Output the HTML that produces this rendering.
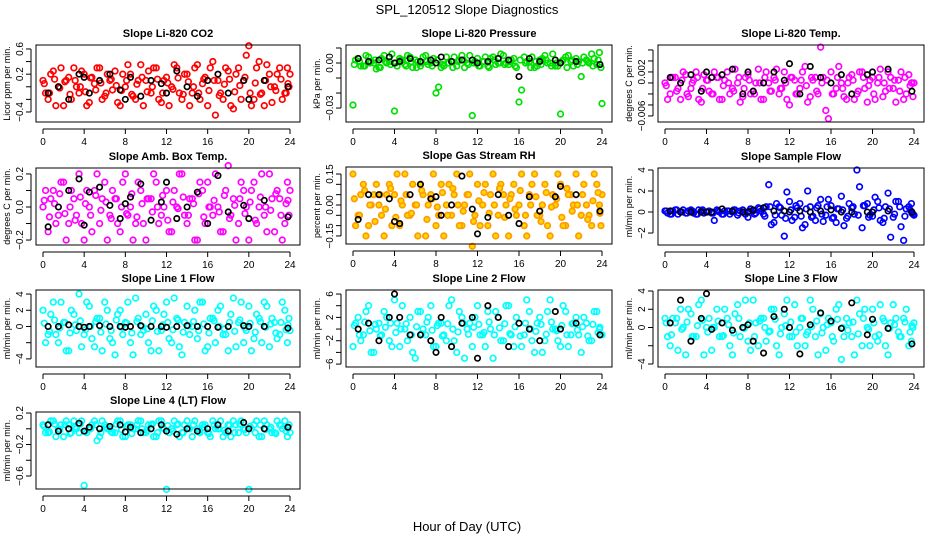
<!DOCTYPE html>
<html><head><meta charset="utf-8">
<style>
html,body{margin:0;padding:0;background:#fff}
svg{display:block;font-family:"Liberation Sans",Arial,sans-serif}
</style></head>
<body>
<svg id="chart" width="936" height="540" viewBox="0 0 936 540" xmlns="http://www.w3.org/2000/svg">
<text x="467" y="14" font-size="13" text-anchor="middle">SPL_120512  Slope Diagnostics</text>
<text x="467" y="531" font-size="13" text-anchor="middle">Hour of Day (UTC)</text>
</svg>
<script>
const hoursA=[0,0.5,1,1.5,2,2.5,3,3.5,4,4.5,5,5.5,6,6.5,7,7.5,8,8.5,9,9.5,10,10.5,11,11.5,12,12.5,13,13.5,14,14.5,15,15.5,16,16.5,17,17.5,18,18.5,19,19.5,20,20.5,21,21.5,22,22.5,23,23.5,24];
const hoursB=[0.25,0.75,1.25,1.75,2.25,2.75,3.25,3.75,4.25,4.75,5.25,5.75,6.25,6.75,7.25,7.75,8.25,8.75,9.25,9.75,10.25,10.75,11.25,11.75,12.25,12.75,13.25,13.75,14.25,14.75,15.25,15.75,16.25,16.75,17.25,17.75,18.25,18.75,19.25,19.75,20.25,20.75,21.25,21.75,22.25,22.75,23.25,23.75,23.9];
const hoursC=[0.125,0.625,1.125,1.625,2.125,2.625,3.125,3.625,4.125,4.625,5.125,5.625,6.125,6.625,7.125,7.625,8.125,8.625,9.125,9.625,10.125,10.625,11.125,11.625,12.125,12.625,13.125,13.625,14.125,14.625,15.125,15.625,16.125,16.625,17.125,17.625,18.125,18.625,19.125,19.625,20.125,20.625,21.125,21.625,22.125,22.625,23.125,23.625,23.8];
const blackHours=[0.5,1.5,2.5,3.5,4,4.5,5.5,6.5,7.5,8,8.5,9.5,10.5,11.5,12,13,14,15,16,17,18,19.5,20,21.5,23.8];
const xTicks=[0,4,8,12,16,20,24];

const co2A=[0.1,-0.2,0.25,0.0,-0.3,0.15,0.3,-0.1,0.2,-0.25,0.05,0.3,-0.15,0.1,0.25,-0.3,0.0,0.2,-0.2,0.35,0.1,-0.1,0.3,-0.25,0.15,0.0,0.3,-0.2,0.2,-0.1,0.35,0.05,-0.3,0.4,0.1,-0.2,0.25,-0.35,0.3,0.1,0.65,-0.2,0.4,-0.3,0.2,0.0,0.3,-0.1,0.2];
const co2B=[-0.1,0.2,-0.3,0.3,0.1,-0.2,0.0,0.25,-0.3,0.15,0.3,-0.2,0.2,-0.05,-0.25,0.2,0.35,-0.15,0.1,-0.3,0.25,0.3,-0.2,0.1,-0.3,0.35,-0.1,0.2,-0.3,0.3,-0.2,0.15,0.3,-0.45,-0.1,0.3,-0.3,0.2,-0.2,0.5,-0.3,0.3,-0.1,0.35,-0.25,0.2,-0.2,0.3,0.0];
const co2C=[0.05,-0.1,0.12,-0.02,0.08,-0.12,0.1,0.0,-0.08,0.14,-0.05,0.06,-0.1,0.12,0.02,-0.06,0.1,-0.12,0.04,0.15,-0.08,0.0,0.12,-0.1,0.06,-0.04,0.14,-0.12,0.08,0.0,-0.1,0.12,-0.06,0.1,-0.14,0.04,0.12,-0.08,0.02,0.15,-0.1,0.06,-0.12,0.1,0.0,-0.06,0.12,-0.1,0.05];
const co2K=[-0.1,0.0,-0.2,0.2,0.15,-0.1,0.1,0.2,-0.05,-0.2,0.15,-0.15,0.1,0.05,-0.1,0.25,0.0,-0.15,0.1,0.2,-0.1,0.1,-0.2,0.1,0.0];

const presA=[-0.028,0.003,-0.002,0.004,0.0,-0.003,0.005,0.001,-0.032,0.003,-0.001,0.004,0.002,-0.002,0.005,0.0,-0.02,-0.003,0.004,0.001,-0.002,0.005,0.0,-0.035,0.003,0.001,-0.002,0.004,0.0,0.005,-0.001,0.003,-0.026,0.004,0.001,-0.003,0.002,0.005,0.0,-0.002,-0.034,0.004,0.001,0.003,-0.009,0.002,0.006,-0.001,-0.027];
const presB=[0.002,-0.002,0.005,0.001,-0.004,0.003,0.0,0.006,-0.002,0.002,0.005,-0.003,0.001,0.004,-0.001,0.003,-0.016,-0.002,0.0,0.004,0.002,-0.003,0.005,0.001,-0.002,0.004,0.003,-0.001,0.006,0.0,0.002,-0.003,-0.018,0.001,0.004,-0.002,0.003,0.0,0.006,-0.002,0.002,0.005,-0.002,0.001,0.004,0.0,0.003,0.007,-0.003];
const presC=[-0.001,0.001,-0.002,0.0,0.002,-0.003,0.001,-0.001,0.0,0.002,-0.002,0.001,-0.003,0.0,0.001,-0.002,0.002,-0.001,0.0,-0.003,0.001,0.002,-0.001,0.0,-0.002,0.001,-0.003,0.002,0.0,-0.001,0.001,-0.002,0.002,0.0,-0.003,0.001,-0.001,0.002,-0.002,0.0,0.001,-0.003,0.002,-0.001,0.0,0.001,-0.002,0.002,-0.001];
const presK=[0.003,0.001,0.002,0.004,0.0,0.001,0.003,0.001,0.002,0.0,0.004,0.001,0.002,0.002,0.0,0.001,0.003,0.002,-0.009,0.003,0.001,0.002,0.0,0.001,-0.001];

const tempA=[0.0,-0.002,0.001,-0.003,0.0015,-0.001,0.002,-0.0035,0.0005,-0.002,0.001,-0.003,0.002,-0.001,0.0,-0.0025,0.0015,-0.0015,0.0025,-0.003,0.0,0.001,-0.002,0.002,-0.004,0.0005,-0.001,0.003,-0.0025,0.001,0.0065,-0.005,0.002,-0.001,0.0,-0.003,0.0015,-0.002,0.002,-0.0035,0.001,0.0,-0.0025,0.002,-0.001,0.0005,-0.003,0.0015,0.0];
const tempB=[-0.003,0.001,-0.001,0.002,-0.0025,0.0005,-0.003,0.0015,-0.0015,0.002,-0.003,0.0005,-0.002,0.0025,-0.0035,0.001,-0.002,0.0,-0.003,0.002,-0.0015,0.0025,-0.001,-0.003,0.001,-0.002,0.002,-0.0035,0.0005,-0.002,0.001,-0.0065,-0.002,0.003,-0.0025,0.001,-0.003,0.002,-0.001,0.0005,-0.003,0.0025,-0.0015,0.001,-0.0035,0.002,-0.002,0.0,-0.0025];
const tempC=[-0.0005,0.001,-0.0015,0.0005,-0.002,0.0,0.001,-0.001,0.0005,-0.002,0.001,-0.0005,0.0,-0.0015,0.001,-0.001,0.0005,-0.002,0.0,0.001,-0.0015,0.0005,-0.001,0.0,0.001,-0.002,0.0005,-0.0005,0.001,-0.0015,0.0,0.0005,-0.002,0.001,-0.001,0.0,0.0005,-0.0015,0.001,-0.0005,-0.002,0.001,0.0,-0.001,0.0005,-0.0015,0.001,-0.0005,0.0];
const tempK=[0.001,0.0,0.0015,-0.0015,0.002,0.001,0.0015,0.0025,-0.002,0.002,-0.0015,0.0,0.002,0.0005,0.0035,-0.002,0.003,0.001,0.0,0.0015,-0.002,0.0015,0.002,0.0025,-0.0015];

const ambA=[0.0,-0.15,0.1,-0.05,0.15,-0.1,0.05,0.2,-0.2,0.0,0.1,-0.1,0.15,-0.05,0.05,-0.15,0.2,0.0,-0.1,0.1,-0.2,0.05,0.15,-0.05,0.1,-0.15,0.0,0.2,-0.1,0.05,-0.2,0.1,0.15,-0.05,0.0,-0.15,0.25,0.05,-0.1,0.1,-0.2,0.15,0.0,-0.05,0.2,-0.15,0.05,-0.1,0.1];
const ambB=[0.1,0.05,-0.1,0.15,-0.2,0.1,-0.05,-0.1,0.1,-0.15,0.2,0.05,-0.2,0.1,-0.1,0.15,-0.05,-0.2,0.15,-0.1,0.05,0.2,-0.1,0.0,-0.15,0.1,0.2,-0.05,0.05,-0.2,0.15,-0.1,0.0,0.2,-0.15,0.1,-0.05,-0.2,0.15,0.0,0.1,-0.1,0.2,-0.15,0.05,0.1,-0.2,0.15,-0.05];
const ambC=[0.04,-0.06,0.02,0.08,-0.04,0.0,-0.08,0.06,0.02,-0.05,0.07,-0.02,0.03,-0.07,0.05,0.0,-0.04,0.08,-0.06,0.02,0.05,-0.03,0.0,0.07,-0.08,0.03,-0.01,0.06,-0.05,0.02,0.08,-0.06,0.0,0.04,-0.03,0.07,-0.07,0.01,0.05,-0.04,0.03,-0.08,0.06,0.0,-0.02,0.08,-0.05,0.02,0.04];
const ambK=[-0.12,0.0,0.1,0.17,-0.11,0.09,0.12,0.01,-0.07,0.02,0.06,0.14,-0.08,0.03,0.15,-0.07,0.0,0.09,-0.1,0.19,-0.03,0.01,-0.07,0.04,-0.06];

const rhA=[0.15,-0.05,0.1,-0.1,0.05,0.0,-0.15,0.1,0.05,-0.1,0.15,-0.05,0.0,0.1,-0.15,0.05,-0.1,0.1,0.0,-0.05,0.15,-0.1,0.05,-0.2,0.1,0.0,-0.1,0.15,-0.05,0.05,-0.15,0.1,0.0,-0.1,0.05,0.15,-0.05,0.1,-0.15,0.0,0.1,-0.1,0.05,0.15,-0.05,0.0,-0.1,0.1,0.05];
const rhB=[-0.1,0.05,-0.15,0.0,0.1,-0.05,0.05,-0.1,0.15,0.0,-0.05,0.1,-0.15,0.05,0.0,0.15,-0.05,-0.15,0.1,0.05,-0.1,0.0,0.15,-0.05,-0.1,0.1,0.05,-0.15,0.1,0.0,0.05,-0.05,0.15,-0.15,0.1,-0.05,0.0,-0.1,0.05,0.15,-0.1,0.05,0.0,-0.15,0.1,-0.05,0.15,0.0,-0.1];
const rhC=[0.03,-0.05,0.07,0.0,-0.08,0.05,-0.02,0.08,-0.06,0.02,0.05,-0.04,0.0,0.07,-0.07,0.03,-0.01,0.06,-0.05,0.08,0.0,-0.03,0.05,-0.08,0.02,0.06,-0.04,0.0,0.08,-0.06,0.03,-0.02,0.07,-0.05,0.0,0.04,-0.08,0.06,-0.01,0.03,-0.06,0.08,-0.03,0.0,0.05,-0.07,0.02,0.06,-0.04];
const rhK=[-0.07,0.05,0.05,0.03,-0.08,-0.09,0.05,0.1,0.03,0.04,-0.05,0.0,0.14,-0.02,-0.14,-0.06,0.05,-0.05,-0.09,0.04,-0.03,0.04,0.09,0.05,-0.03];

const sfA=[0.1,-0.2,0.2,0.0,-0.1,0.2,-0.2,0.1,0.0,-0.1,0.2,-0.2,0.1,0.0,-0.3,0.2,-0.5,0.1,0.4,-0.2,2.6,-1.0,0.5,-2.3,1.0,-0.5,0.8,-1.2,0.5,-0.8,1.2,-0.3,0.6,-1.0,1.5,-0.6,0.4,4.0,-1.5,0.8,-0.4,1.0,-1.0,1.8,-0.5,1.0,-2.7,0.5,-0.3];
const sfB=[-0.1,0.1,-0.2,0.2,0.1,-0.1,0.2,-0.1,0.1,-0.8,0.0,0.1,-0.2,0.2,0.1,-0.2,0.3,-0.1,0.1,0.5,-1.2,0.8,-0.3,1.9,-0.8,0.4,-1.5,2.0,-0.4,0.6,-0.9,1.2,-0.5,0.3,-1.3,0.8,-0.2,2.4,0.6,-0.3,1.4,-0.8,0.5,-2.4,1.0,-1.4,0.3,0.8,-0.2];
const sfC=[0.1,-0.2,0.2,0.0,-0.1,0.1,-0.2,0.2,0.0,-0.1,0.1,-0.2,0.1,0.2,-0.1,0.0,0.1,-0.2,0.3,-0.4,0.5,-0.3,0.4,-0.6,0.2,0.6,-0.4,0.3,-0.5,0.4,-0.2,0.5,-0.6,0.3,0.2,-0.4,0.5,-0.3,0.6,-0.5,0.2,0.4,-0.6,0.3,-0.2,0.5,-0.4,0.2,-0.1];
const sfK=[0.1,0.0,0.0,0.0,0.0,0.0,0.3,0.1,0.0,0.0,0.2,0.4,0.1,0.1,0.0,0.1,0.0,0.1,0.2,0.0,0.0,0.0,0.0,0.1,0.0];

const l1A=[2,-1,3,-2,0.5,-3,1.5,4,-1,2.5,-2.5,1,3,-1.5,-3.5,2,0.5,-2,3.5,-1,1.5,-3,2,-0.5,3,-2,1,-3.5,2.5,0,-1.5,3,-2.5,1,2,-1,-3,3.5,0.5,-2,2.5,-1.5,1,3,-2.5,0.5,-1,2,-0.5];
const l1B=[-2,1.5,-1,3,-3,2,-0.5,-2.5,3,-1.5,1,-3,2,-2,1.5,-1,3,-3.5,1,-0.5,-2,2.5,-3,1.5,-1.5,3.5,-2.5,0.5,-1,2,3,-3,1,-2,2.5,-1,1.5,-2.5,3,-0.5,-3,1.5,-2,2.5,1,-1.5,3,-2,1];
const l1C=[0.4,-0.6,0.8,-0.2,0.5,-0.8,0.2,0.7,-0.4,0.0,0.6,-0.7,0.3,-0.5,0.8,-0.1,0.4,-0.8,0.6,0.0,-0.3,0.7,-0.6,0.2,0.5,-0.4,0.8,-0.7,0.1,0.6,-0.5,0.3,-0.8,0.7,0.0,-0.3,0.5,-0.6,0.8,-0.2,0.4,-0.7,0.6,-0.1,0.3,-0.8,0.5,-0.4,0.2];
const l1K=[0,0,0.2,0,-0.1,0,0.1,0,0,-0.1,0,0.1,0,0,-0.1,0,0.1,0,0,-0.1,0,0.1,0,0,-0.2];

const l2A=[-3,2,-1,4,-4,1,3,-2,5,-3,0,2,-5,3,-1,4,-3,1,-2,5,-4,2,0,-3,4,-1,3,-5,2,-2,4,-3,1,-1,3,-4,2,-2,5,0,-3,3,-1,2,-4,1,-2,3,-1];
const l2B=[1,-2,3,-4,0,-1,2,-3,1,4,-2,-4,3,0,2,-3,1,-1,4,-2,3,-5,1,2,-1,-3,0,3,-2,4,-1,2,-3,5,-2,1,-4,3,0,-2,4,-3,1,-1,2,-2,3,0,-1];
const l2C=[0.6,-1.0,1.2,-0.3,0.8,-1.2,0.3,1.0,-0.6,0.0,0.9,-1.0,0.4,-0.8,1.2,-0.2,0.6,-1.2,0.9,0.0,-0.5,1.0,-0.9,0.3,0.8,-0.6,1.2,-1.0,0.2,0.9,-0.8,0.4,-1.2,1.0,0.0,-0.4,0.8,-0.9,1.2,-0.3,0.6,-1.0,0.9,-0.2,0.4,-1.2,0.8,-0.6,0.3];
const l2K=[0,1,-2,2,6,2,-1,-1,-2,-4,2,-3,1,2,-5,4,2,-3,1,0,-2,3,0,1,-1];

const l3A=[1,-2,0.5,2,-3,1.5,-1,3,0,-2.5,2,-1,1,-3,2.5,0,-1.5,3,-2,1,-0.5,2,-3,1.5,-1,2.5,0,-2,3,-1,1.5,-2.5,0.5,2,-3.5,1,-1,3,-2,0,2,-1.5,1,-3,2.5,-0.5,1,-2,0.5];
const l3B=[-1,1,-2.5,0,2,-1,2.5,-3,1,0,-1,2,-2,1.5,-1,3,-2.5,0.5,1,-1.5,2,-2,0,3,-1,-2,1,-0.5,2,-3,0,1,-1.5,2.5,-1,0.5,-3,1.5,2,-2,-1,2.5,-2,0.5,1,-1,2,-1.5,0];
const l3C=[0.5,-0.8,1.0,-0.2,0.6,-1.0,0.2,0.8,-0.5,0.0,0.7,-0.9,0.3,-0.6,1.0,-0.1,0.5,-1.0,0.7,0.0,-0.4,0.9,-0.7,0.2,0.6,-0.5,1.0,-0.8,0.1,0.7,-0.6,0.3,-1.0,0.9,0.0,-0.3,0.6,-0.7,1.0,-0.2,0.5,-0.8,0.7,-0.1,0.3,-1.0,0.6,-0.5,0.2];
const l3K=[0.5,3,-1.5,1,3.7,-0.2,0.5,-0.3,0,0.3,-1.5,-2.8,1.2,2,0,-2.9,0.3,1.6,0.7,-0.1,2.7,-0.8,0.9,-0.1,-1.8];

const l4A=[0.05,-0.05,0.1,0.0,-0.1,0.05,0.1,-0.05,-0.72,0.0,0.1,-0.1,0.05,0.0,-0.05,0.1,-0.1,0.05,0.0,0.1,-0.05,0.05,-0.1,0.1,-0.77,0.0,0.05,-0.05,0.1,-0.1,0.0,0.05,-0.05,0.1,0.0,-0.1,0.05,0.1,-0.05,0.0,-0.77,0.05,-0.1,0.1,0.0,-0.05,0.05,0.1,-0.05];
const l4B=[-0.05,0.1,-0.1,0.05,0.1,-0.05,0.0,0.1,-0.05,0.05,-0.15,0.1,0.0,-0.05,0.1,-0.1,0.05,0.0,0.1,-0.05,0.05,-0.1,0.1,0.0,-0.05,0.1,-0.1,0.05,0.0,0.1,-0.05,0.05,-0.1,0.0,0.1,-0.05,-0.1,0.05,0.1,-0.05,0.0,0.1,-0.1,0.05,-0.05,0.1,0.0,-0.1,0.05];
const l4C=[0.03,-0.04,0.06,-0.01,0.05,-0.06,0.02,0.06,-0.03,0.0,0.05,-0.05,0.02,-0.04,0.06,-0.01,0.03,-0.06,0.05,0.0,-0.02,0.06,-0.05,0.01,0.04,-0.03,0.06,-0.05,0.01,0.05,-0.04,0.02,-0.06,0.05,0.0,-0.02,0.04,-0.05,0.06,-0.01,0.03,-0.05,0.05,-0.01,0.02,-0.06,0.04,-0.03,0.01];
const l4K=[0.05,-0.03,0.0,0.07,-0.03,0.02,0.0,0.03,0.05,-0.04,0.02,-0.05,0.0,0.05,-0.03,-0.07,0.0,-0.03,0.0,0.05,-0.03,0.08,0.0,0.0,0.02];

const panels=[
 {name:'co2',title:'Slope Li-820 CO2',ylab:'Licor ppm per min.',L:36,T:45,R:300,B:122,ymin:-0.559,ymax:0.663,ticks:[-0.4,-0.2,0,0.2,0.4,0.6],labels:[-0.4,0.2,0.6],dec:1,color:'#ff0000',a:co2A,b:co2B,c:co2C,k:co2K},
 {name:'pressure',title:'Slope Li-820 Pressure',ylab:'kPa per min.',L:346,T:45,R:612,B:122,ymin:-0.0393,ymax:0.012,ticks:[-0.03,-0.02,-0.01,0,0.01],labels:[-0.03,0],dec:2,color:'#00e000',a:presA,b:presB,c:presC,k:presK},
 {name:'temp',title:'Slope Li-820 Temp.',ylab:'degrees C per min.',L:658,T:45,R:924,B:122,ymin:-0.0071,ymax:0.0069,ticks:[-0.006,-0.004,-0.002,0,0.002,0.004,0.006],labels:[-0.006,0.002],dec:3,color:'#ff00ff',a:tempA,b:tempB,c:tempC,k:tempK},
 {name:'amb-box-temp',title:'Slope Amb. Box Temp.',ylab:'degrees C per min.',L:36,T:168,R:300,B:245,ymin:-0.23,ymax:0.236,ticks:[-0.2,-0.1,0,0.1,0.2],labels:[-0.2,0,0.2],dec:1,color:'#ff00ff',a:ambA,b:ambB,c:ambC,k:ambK},
 {name:'gas-rh',title:'Slope Gas Stream RH',ylab:'percent per min.',L:346,T:167,R:612,B:244,ymin:-0.189,ymax:0.184,ticks:[-0.15,-0.1,-0.05,0,0.05,0.1,0.15],labels:[-0.15,0,0.15],dec:2,color:'#ff9a00',fill:'#ffd800',a:rhA,b:rhB,c:rhC,k:rhK},
 {name:'sample-flow',title:'Slope Sample Flow',ylab:'ml/min per min.',L:658,T:168,R:924,B:245,ymin:-3.14,ymax:4.19,ticks:[-2,0,2,4],labels:[-2,0,2,4],dec:0,color:'#0000ff',a:sfA,b:sfB,c:sfC,k:sfK},
 {name:'line1-flow',title:'Slope Line 1 Flow',ylab:'ml/min per min.',L:36,T:290,R:300,B:367,ymin:-5.0,ymax:4.5,ticks:[-4,-2,0,2,4],labels:[-4,0,2,4],dec:0,color:'#00ffff',a:l1A,b:l1B,c:l1C,k:l1K},
 {name:'line2-flow',title:'Slope Line 2 Flow',ylab:'ml/min per min.',L:346,T:290,R:612,B:367,ymin:-6.5,ymax:6.69,ticks:[-6,-4,-2,0,2,4,6],labels:[-6,-2,2,6],dec:0,color:'#00ffff',a:l2A,b:l2B,c:l2C,k:l2K},
 {name:'line3-flow',title:'Slope Line 3 Flow',ylab:'ml/min per min.',L:658,T:290,R:924,B:367,ymin:-4.33,ymax:4.11,ticks:[-4,-2,0,2,4],labels:[-4,0,2,4],dec:0,color:'#00ffff',a:l3A,b:l3B,c:l3C,k:l3K},
 {name:'line4-flow',title:'Slope Line 4 (LT) Flow',ylab:'ml/min per min.',L:36,T:412,R:300,B:489,ymin:-0.765,ymax:0.213,ticks:[-0.6,-0.4,-0.2,0,0.2],labels:[-0.6,-0.2,0.2],dec:1,color:'#00ffff',a:l4A,b:l4B,c:l4C,k:l4K}
];
const NS='http://www.w3.org/2000/svg';
const svg=document.getElementById('chart');
function mk(tag,attrs,parent){const e=document.createElementNS(NS,tag);for(const k in attrs)e.setAttribute(k,attrs[k]);parent.appendChild(e);return e;}
panels.forEach(p=>{
  const g=mk('g',{},svg);
  
  
  const x0=p.L+7,x1=p.R-10;
  const xs=h=>x0+(h/24)*(x1-x0);
  const ys=v=>p.B-(v-p.ymin)/(p.ymax-p.ymin)*(p.B-p.T);
  const t=mk('text',{x:(p.L+p.R)/2,y:p.T-8,'font-size':11,'font-weight':'bold','text-anchor':'middle'},g);
  t.textContent=p.title;
  
  
  const yl=mk('text',{x:0,y:0,'font-size':9,'text-anchor':'middle',transform:`translate(${p.L-26},${(p.T+p.B)/2}) rotate(-90)`},g);
  yl.textContent=p.ylab;
  
  
  const pts=mk('g',{},g);
  
  
  [[hoursA,p.a],[hoursB,p.b],[hoursC,p.c]].forEach(([hs,vals])=>{
    vals.forEach((v,i)=>{
      const c=mk('circle',{cx:xs(hs[i]),cy:ys(v),r:2.8,fill:p.fill||'none',stroke:p.color,'stroke-width':1.7},pts);
      
      
    });
  });
  const kg=mk('g',{},g);
  
  
  p.k.forEach((v,i)=>{
    const c=mk('circle',{cx:xs(blackHours[i]),cy:ys(v),r:2.7,fill:'none',stroke:'#000','stroke-width':1.7},kg);
    
    
  });
  const box=mk('rect',{x:p.L,y:p.T,width:p.R-p.L,height:p.B-p.T,fill:'none',stroke:'#000','stroke-width':1},g);
  
  
  const xa=mk('g',{},g);
  
  
  mk('line',{x1:xs(0),x2:xs(24),y1:p.B+7,y2:p.B+7,stroke:'#000'},xa);
  xTicks.forEach(h=>{
    mk('line',{x1:xs(h),x2:xs(h),y1:p.B+7,y2:p.B+12,stroke:'#000'},xa);
    const tl=mk('text',{x:xs(h),y:p.B+23,'font-size':10,'text-anchor':'middle'},xa);
    tl.textContent=h;
    
    
  });
  const ya=mk('g',{},g);
  
  
  const tk=p.ticks;
  mk('line',{x1:p.L-5,x2:p.L-5,y1:ys(tk[0]),y2:ys(tk[tk.length-1]),stroke:'#000'},ya);
  tk.forEach(v=>mk('line',{x1:p.L-10,x2:p.L-5,y1:ys(v),y2:ys(v),stroke:'#000'},ya));
  p.labels.forEach(v=>{
    const tl=mk('text',{x:0,y:0,'font-size':10,'text-anchor':'middle',transform:`translate(${p.L-13},${ys(v)}) rotate(-90)`},ya);
    tl.textContent=v.toFixed(p.dec).replace('-','\u2212');
    
    
  });
});
</script>
</body></html>
